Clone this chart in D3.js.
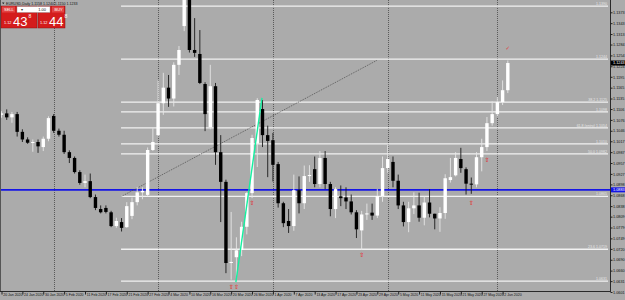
<!DOCTYPE html>
<html><head><meta charset="utf-8">
<script src="https://cdn.jsdelivr.net/npm/d3@7"></script>
<style>html,body{margin:0;padding:0;background:#ababab;}svg{display:block;}</style>
</head><body><svg id="c" width="625" height="300"></svg>
<script>
// ---- data ----
const days = ["2020-01-17","2020-01-20","2020-01-21","2020-01-22","2020-01-23","2020-01-24","2020-01-27","2020-01-28","2020-01-29","2020-01-30","2020-01-31",
"2020-02-03","2020-02-04","2020-02-05","2020-02-06","2020-02-07","2020-02-10","2020-02-11","2020-02-12","2020-02-13","2020-02-14","2020-02-17","2020-02-18","2020-02-19","2020-02-20","2020-02-21","2020-02-24","2020-02-25","2020-02-26","2020-02-27","2020-02-28",
"2020-03-02","2020-03-03","2020-03-04","2020-03-05","2020-03-06","2020-03-09","2020-03-10","2020-03-11","2020-03-12","2020-03-13","2020-03-16","2020-03-17","2020-03-18","2020-03-19","2020-03-20","2020-03-23","2020-03-24","2020-03-25","2020-03-26","2020-03-27","2020-03-30","2020-03-31",
"2020-04-01","2020-04-02","2020-04-03","2020-04-06","2020-04-07","2020-04-08","2020-04-09","2020-04-10","2020-04-13","2020-04-14","2020-04-15","2020-04-16","2020-04-17","2020-04-20","2020-04-21","2020-04-22","2020-04-23","2020-04-24","2020-04-27","2020-04-28","2020-04-29","2020-04-30",
"2020-05-01","2020-05-04","2020-05-05","2020-05-06","2020-05-07","2020-05-08","2020-05-11","2020-05-12","2020-05-13","2020-05-14","2020-05-15","2020-05-18","2020-05-19","2020-05-20","2020-05-21","2020-05-22","2020-05-25","2020-05-26","2020-05-27","2020-05-28","2020-05-29",
"2020-06-01","2020-06-02","2020-06-03"];
const open  = [1.1135,1.1090,1.1094,1.1083,1.1092,1.1043,1.1022,1.1013,1.1015,1.1001,1.1024,
1.1087,1.1046,1.1035,1.0987,1.0971,1.0932,1.0902,1.0907,1.0863,1.0830,1.0833,1.0821,1.0783,1.0794,1.0780,1.0811,1.0849,1.0876,1.0869,1.0993,
1.1034,1.1122,1.1165,1.1135,1.1228,1.1335,1.1450,1.1269,1.1258,1.1175,1.1056,1.1169,1.0987,1.0905,1.0681,1.0697,1.0717,1.0781,1.0874,1.1011,1.1106,1.1034,
1.1020,1.0954,1.0846,1.0797,1.0783,1.0882,1.0846,1.0921,1.0940,1.0899,1.0971,1.0899,1.0830,1.0865,1.0862,1.0851,1.0821,1.0771,1.0815,1.0820,1.0812,1.0866,
1.0943,1.0960,1.0908,1.0840,1.0794,1.0832,1.0840,1.0806,1.0848,1.0817,1.0804,1.0819,1.0910,1.0923,1.0968,1.0940,1.0900,1.0898,1.0973,1.1001,1.1067,
1.1092,1.1125,1.1158];
const high  = [1.1142,1.1100,1.1105,1.1098,1.1098,1.1050,1.1028,1.1022,1.1022,1.1030,1.1086,
1.1092,1.1052,1.1046,1.0992,1.0975,1.0937,1.0925,1.0928,1.0870,1.0840,1.0840,1.0825,1.0806,1.0805,1.0849,1.0862,1.0891,1.0890,1.1000,1.1053,
1.1185,1.1206,1.1200,1.1235,1.1280,1.1495,1.1455,1.1357,1.1324,1.1180,1.1228,1.1178,1.1034,1.0911,1.0822,1.0752,1.0795,1.0877,1.1035,1.1136,1.1131,1.1060,
1.1040,1.0960,1.0850,1.0830,1.0925,1.0920,1.0950,1.0951,1.0975,1.0990,1.0990,1.0905,1.0890,1.0895,1.0890,1.0870,1.0827,1.0825,1.0845,1.0845,1.0885,1.0975,
1.1007,1.0975,1.0925,1.0850,1.0850,1.0876,1.0875,1.0865,1.0885,1.0817,1.0835,1.0926,1.0971,1.0987,1.0999,1.0945,1.0917,1.0987,1.1024,1.1084,1.1127,
1.1140,1.1185,1.1240];
const low   = [1.1085,1.1082,1.1076,1.1068,1.1030,1.1015,1.1010,1.0988,1.0985,1.0990,1.1017,
1.1040,1.1030,1.0982,1.0957,1.0928,1.0897,1.0890,1.0860,1.0827,1.0818,1.0818,1.0780,1.0778,1.0768,1.0778,1.0802,1.0840,1.0857,1.0865,1.0990,
1.1030,1.1090,1.1112,1.1113,1.1200,1.1321,1.1262,1.1250,1.1175,1.1045,1.1050,1.0952,1.0794,1.0653,1.0635,1.0639,1.0700,1.0760,1.0860,1.0946,1.1001,1.0918,
1.0906,1.0834,1.0780,1.0764,1.0770,1.0818,1.0830,1.0905,1.0890,1.0890,1.0885,1.0810,1.0805,1.0838,1.0830,1.0815,1.0750,1.0717,1.0800,1.0800,1.0805,1.0850,
1.0930,1.0890,1.0830,1.0782,1.0766,1.0816,1.0795,1.0785,1.0807,1.0774,1.0767,1.0803,1.0903,1.0920,1.0930,1.0870,1.0872,1.0890,1.0934,1.0990,1.1060,
1.1085,1.1117,1.1150];
const close = [1.1092,1.1094,1.1083,1.1092,1.1043,1.1022,1.1013,1.1015,1.1003,1.1024,1.1081,
1.1046,1.1035,1.0987,1.0971,1.0932,1.0902,1.0907,1.0863,1.0833,1.0821,1.0822,1.0783,1.0797,1.0778,1.0838,1.0849,1.0876,1.0880,1.0993,1.1015,
1.1122,1.1165,1.1135,1.1228,1.1269,1.1450,1.1269,1.1261,1.1178,1.1092,1.1169,1.0987,1.0905,1.0681,1.0684,1.0716,1.0781,1.0874,1.1026,1.1131,1.1034,1.1018,
1.0952,1.0846,1.0791,1.0783,1.0882,1.0846,1.0921,1.0924,1.0899,1.0971,1.0899,1.0830,1.0885,1.0860,1.0851,1.0821,1.0774,1.0815,1.0818,1.0812,1.0866,1.0943,
1.0968,1.0908,1.0840,1.0794,1.0832,1.0840,1.0806,1.0848,1.0817,1.0804,1.0819,1.0915,1.0918,1.0971,1.0943,1.0900,1.0898,1.0973,1.1001,1.1067,1.1092,
1.1125,1.1158,1.1233];

const xTickDays   = ["2020-01-20","2020-01-24","2020-01-30","2020-02-05","2020-02-11","2020-02-17","2020-02-21","2020-02-27","2020-03-04","2020-03-10","2020-03-16","2020-03-20","2020-03-26","2020-04-01","2020-04-07","2020-04-13","2020-04-17","2020-04-23","2020-04-29","2020-05-05","2020-05-11","2020-05-15","2020-05-21","2020-05-27","2020-06-02"];
const xTickLabels = ["20 Jan 2020","24 Jan 2020","30 Jan 2020","5 Feb 2020","11 Feb 2020","17 Feb 2020","21 Feb 2020","27 Feb 2020","4 Mar 2020","10 Mar 2020","16 Mar 2020","20 Mar 2020","26 Mar 2020","1 Apr 2020","7 Apr 2020","13 Apr 2020","17 Apr 2020","23 Apr 2020","29 Apr 2020","5 May 2020","11 May 2020","15 May 2020","21 May 2020","27 May 2020","2 Jun 2020"];
const yTicks = [1.1373,1.1343,1.1313,1.1284,1.1254,1.1224,1.1195,1.1165,1.1135,1.1106,1.1076,1.1046,1.1017,1.0987,1.0957,1.0927,1.0898,1.0868,1.0838,1.0809,1.0779,1.0749,1.0720,1.0690,1.0660,1.0631,1.0601];
const monthStarts = ["2020-02-03","2020-03-02","2020-04-01","2020-05-01","2020-06-01"];
const levelPrices = [1.1390,1.1244,1.1125,1.1098,1.1054,1.1010,1.0982,1.0865,1.0719,1.0631];
const levelLabels = ["1.1390","1.1244","38.2 1.1125","1.1098","61.8 (entry) 1.1054","1.1010","50.0 1.0982","1.0865","23.6 1.0719","1.0631"];
const levelStartDay = "2020-02-20";
const blueLevel = 1.0883;
const trendDots = [["2020-02-20",1.0865],["2020-04-29",1.1241]];
const greenLine = [["2020-03-20",1.0628,0.9],["2020-03-30",1.1137,-0.1]];
const arrowDays = ["2020-03-20","2020-03-23","2020-03-26","2020-04-24","2020-05-25","2020-05-28"];
const arrowPrices = [1.0610,1.0610,1.0842,1.0698,1.0842,1.0960];
const bid = "1.1243", ask = "1.1244";

// ---- drawing ----
const svg = d3.select("#c");
const W = 625, H = 300, plotR = 610, plotB = 291;
const idx = d => days.indexOf(d) - 1;
const x = d3.scaleLinear().domain([0, 96]).range([1.5, 502.6]);
const y = d3.scaleLinear().domain([1.0601, 1.1373]).range([292, 12.3]);
const BG = "#ababab";
svg.append("rect").attr("width", W).attr("height", H).attr("fill", BG);

const defs = svg.append("defs");
defs.append("clipPath").attr("id","plot").append("rect").attr("x",0).attr("y",0).attr("width",plotR).attr("height",plotB);
const g = svg.append("g").attr("clip-path","url(#plot)");

// month separators
g.selectAll("line.sep").data(monthStarts).join("line")
  .attr("x1", d => Math.round(x(idx(d)))+0.5).attr("x2", d => Math.round(x(idx(d)))+0.5)
  .attr("y1", 0).attr("y2", plotB)
  .attr("stroke", "#5a5a5a").attr("stroke-width", 1).attr("stroke-dasharray", "1,1");

// level lines
const x0 = x(idx(levelStartDay)) - 0.5;
g.selectAll("line.lvl").data(levelPrices).join("line")
  .attr("x1", x0).attr("x2", 608)
  .attr("y1", d => y(d)).attr("y2", d => y(d))
  .attr("stroke", "#f2f2f2").attr("stroke-width", 1.3);
g.selectAll("text.lvl").data(levelPrices).join("text")
  .attr("x", 607).attr("y", d => y(d) - 1)
  .attr("text-anchor", "end").attr("font-size", 3.6).attr("fill", "#e8e8e8")
  .attr("font-family", "Liberation Sans, Arial, sans-serif")
  .text((d,i) => levelLabels[i]);

// blue level
g.append("line").attr("x1",0).attr("x2",plotR).attr("y1",y(blueLevel)).attr("y2",y(blueLevel))
  .attr("stroke","#1414e6").attr("stroke-width",1.6);

// trend line dotted
g.append("line")
  .attr("x1", x(idx(trendDots[0][0]))).attr("y1", y(trendDots[0][1]))
  .attr("x2", x(idx(trendDots[1][0]))).attr("y2", y(trendDots[1][1]))
  .attr("stroke","#4a4a4a").attr("stroke-width",0.8).attr("stroke-dasharray","1,1");

// candles
const n = days.length;
const cd = d3.range(n).map(k => ({i: k-1, o: open[k], h: high[k], l: low[k], c: close[k]}));
const bw = 3.4;
g.selectAll("line.wick").data(cd).join("line")
  .attr("x1", d => x(d.i)).attr("x2", d => x(d.i))
  .attr("y1", d => y(d.h)).attr("y2", d => y(d.l))
  .attr("stroke", d => d.c >= d.o ? "#e6e6e6" : "#1a1a1a").attr("stroke-width", 0.9);
g.selectAll("rect.body").data(cd).join("rect")
  .attr("x", d => x(d.i) - bw/2).attr("width", bw)
  .attr("y", d => y(Math.max(d.o, d.c)))
  .attr("height", d => Math.max(1, Math.abs(y(d.o) - y(d.c))))
  .attr("fill", d => d.c >= d.o ? "#ffffff" : "#000000");

// green line
g.append("line")
  .attr("x1", x(idx(greenLine[0][0]) + greenLine[0][2])).attr("y1", y(greenLine[0][1]))
  .attr("x2", x(idx(greenLine[1][0]) + greenLine[1][2])).attr("y2", y(greenLine[1][1]))
  .attr("stroke","#14f0a0").attr("stroke-width",1.4);

// arrows
g.selectAll("text.arr").data(arrowDays).join("text")
  .attr("x", d => x(idx(d))).attr("y", (d,i) => y(arrowPrices[i]))
  .attr("text-anchor","middle").attr("font-size",6).attr("font-weight","bold").attr("fill","#e03a3a")
  .attr("font-family","DejaVu Sans")
  .text("⇧");
g.append("text").attr("x", x(idx("2020-06-03"))).attr("y", y(1.1268))
  .attr("text-anchor","middle").attr("font-size",5.5).attr("fill","#e03a3a")
  .attr("font-family","DejaVu Sans").text("✓");

// axes frame
svg.append("line").attr("x1",plotR+0.5).attr("x2",plotR+0.5).attr("y1",0).attr("y2",plotB+1).attr("stroke","#2a2a2a");
svg.append("line").attr("x1",0).attr("x2",plotR+1).attr("y1",plotB+0.5).attr("y2",plotB+0.5).attr("stroke","#2a2a2a");
svg.append("line").attr("x1",0.5).attr("x2",0.5).attr("y1",0).attr("y2",plotB).attr("stroke","#555");

// y axis
const ya = d3.axisRight(y).tickValues(yTicks).tickSize(2).tickFormat(d3.format(".4f"));
const yg = svg.append("g").attr("transform",`translate(${plotR+0.5},0)`).call(ya);
yg.select(".domain").remove();
yg.selectAll("line").attr("stroke","#222");
yg.selectAll("text").attr("x",2.5).attr("font-size",3.8).attr("fill","#111").attr("font-family","Liberation Sans, Arial, sans-serif");

// price boxes
function pbox(p, fill, col, txt){
  const yy = y(p);
  svg.append("rect").attr("x",plotR+1).attr("y",yy-2.5).attr("width",14).attr("height",5).attr("fill",fill);
  svg.append("text").attr("x",plotR+3).attr("y",yy+1.3).attr("font-size",3.8).attr("fill",col)
     .attr("font-family","Liberation Sans, Arial, sans-serif").text(txt);
}
pbox(1.1233, "#000", "#fff", bid);
pbox(blueLevel, "#1414e6", "#fff", d3.format(".4f")(blueLevel));

// x axis
const xa = d3.axisBottom(x).tickValues(xTickDays.map(idx)).tickSize(3)
  .tickFormat((d,i) => xTickLabels[i]);
const xg = svg.append("g").attr("transform",`translate(0,${plotB+0.5})`).call(xa);
xg.select(".domain").remove();
xg.selectAll("line").attr("stroke","#222");
xg.selectAll("text").attr("text-anchor","start").attr("dx",1.2).attr("y",2.2).attr("dy","0.71em")
  .attr("font-size",3.5).attr("fill","#111").attr("font-family","Liberation Sans, Arial, sans-serif");

// title
svg.append("text").attr("x",6).attr("y",4.8).attr("font-size",3.6).attr("fill","#111")
  .attr("font-family","Liberation Sans, Arial, sans-serif")
  .text("EURUSD,Daily  1.1158 1.1240 1.1150 1.1233");
svg.append("path").attr("d","M2,2.5 L4.5,2.5 L3.25,4.2Z").attr("fill","#222");

// one-click panel
const pn = svg.append("g").attr("font-family","Liberation Sans, Arial, sans-serif");
pn.append("rect").attr("x",1).attr("y",6).attr("width",36).attr("height",22).attr("fill","#d41c1c").attr("stroke","#8c1010").attr("stroke-width",0.5);
pn.append("rect").attr("x",38).attr("y",6).attr("width",27).attr("height",22).attr("fill","#d41c1c").attr("stroke","#8c1010").attr("stroke-width",0.5);
pn.append("rect").attr("x",2).attr("y",6.5).attr("width",13).attr("height",6).attr("fill","#e24444");
pn.append("text").attr("x",4).attr("y",11).attr("font-size",4).attr("fill","#fff").text("SELL");
pn.append("rect").attr("x",52).attr("y",6.5).attr("width",12).attr("height",6).attr("fill","#e24444");
pn.append("text").attr("x",54.5).attr("y",11).attr("font-size",4).attr("fill","#fff").text("BUY");
pn.append("rect").attr("x",17).attr("y",6.5).attr("width",33).attr("height",6).attr("fill","#fff").attr("stroke","#888").attr("stroke-width",0.4);
pn.append("text").attr("x",21).attr("y",11).attr("font-size",4).attr("fill","#333").text("▾");
pn.append("text").attr("x",46).attr("y",11).attr("text-anchor","end").attr("font-size",4).attr("fill","#111").text("1.00");
function bigPrice(x0, s){
  pn.append("text").attr("x",x0).attr("y",24).attr("font-size",3.8).attr("fill","#fff").text(s.slice(0,4));
  pn.append("text").attr("x",x0+9).attr("y",26).attr("font-size",13).attr("fill","#fff").text(s.slice(4,6));
  pn.append("text").attr("x",x0+24.5).attr("y",18).attr("font-size",5).attr("fill","#fff").text("8");
}
bigPrice(4, bid + "8");
bigPrice(40, ask + "9");
</script></body></html>
